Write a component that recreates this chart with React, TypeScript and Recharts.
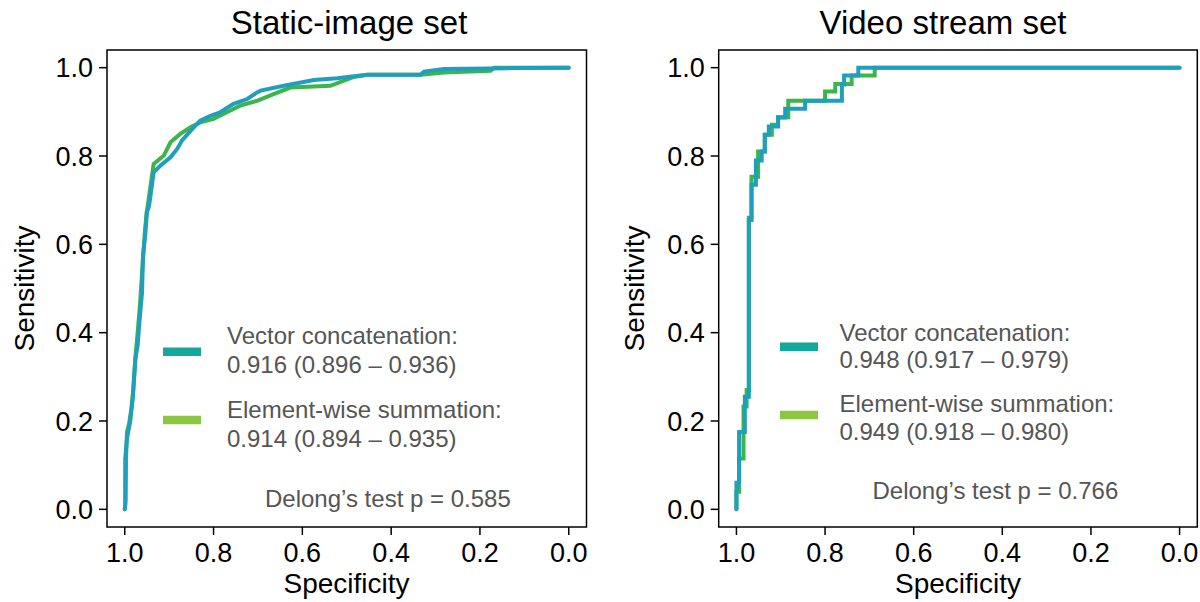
import React from "react";
import { LineChart, Line, XAxis, YAxis, ReferenceArea } from "recharts";

// ---- data: [specificity, sensitivity] ----
const staticVector: [number, number][] = [
  [1.0, 0.0], [0.999, 0.01], [0.999, 0.114], [0.995, 0.16], [0.988, 0.198], [0.982, 0.25],
  [0.976, 0.341], [0.971, 0.371], [0.967, 0.424], [0.961, 0.492], [0.959, 0.574], [0.954, 0.62],
  [0.95, 0.673], [0.946, 0.684], [0.943, 0.703], [0.935, 0.763], [0.92, 0.778], [0.897, 0.797],
  [0.882, 0.816], [0.871, 0.835], [0.852, 0.857], [0.83, 0.88], [0.807, 0.891], [0.785, 0.899],
  [0.755, 0.918], [0.724, 0.929], [0.702, 0.944], [0.694, 0.948], [0.642, 0.959], [0.574, 0.972],
  [0.522, 0.976], [0.454, 0.984], [0.334, 0.984], [0.326, 0.991], [0.281, 0.997], [0.123, 0.999],
  [0.0, 1.0],
];
const staticElement: [number, number][] = [
  [1.0, 0.0], [0.998, 0.02], [0.997, 0.12], [0.995, 0.175], [0.99, 0.195], [0.985, 0.23],
  [0.981, 0.27], [0.976, 0.345], [0.971, 0.4], [0.966, 0.46], [0.962, 0.52], [0.958, 0.58],
  [0.955, 0.625], [0.951, 0.67], [0.946, 0.703], [0.935, 0.782], [0.912, 0.801], [0.897, 0.831],
  [0.875, 0.85], [0.852, 0.865], [0.83, 0.876], [0.8, 0.884], [0.77, 0.899], [0.74, 0.914],
  [0.702, 0.925], [0.665, 0.94], [0.627, 0.955], [0.537, 0.959], [0.484, 0.979], [0.454, 0.984],
  [0.334, 0.984], [0.281, 0.989], [0.176, 0.993], [0.168, 1.0], [0.0, 1.0],
];
const videoVector: [number, number][] = [
  [1.0, 0.0], [1.0, 0.06], [0.994, 0.06], [0.994, 0.175], [0.981, 0.175], [0.981, 0.255],
  [0.972, 0.255], [0.972, 0.655], [0.966, 0.655], [0.966, 0.735], [0.956, 0.735], [0.956, 0.79],
  [0.943, 0.79], [0.943, 0.81], [0.936, 0.81], [0.936, 0.848], [0.927, 0.848], [0.927, 0.867],
  [0.906, 0.867], [0.906, 0.887], [0.89, 0.887], [0.89, 0.907], [0.845, 0.907], [0.845, 0.925],
  [0.762, 0.925], [0.762, 0.962], [0.757, 0.962], [0.757, 0.982], [0.725, 0.982], [0.725, 1.0],
  [0.0, 1.0],
];
const videoElement: [number, number][] = [
  [1.0, 0.0], [1.0, 0.04], [0.994, 0.04], [0.994, 0.115], [0.984, 0.115], [0.984, 0.233],
  [0.977, 0.233], [0.977, 0.27], [0.972, 0.27], [0.972, 0.66], [0.966, 0.66], [0.966, 0.753],
  [0.951, 0.753], [0.951, 0.81], [0.936, 0.81], [0.936, 0.848], [0.92, 0.848], [0.92, 0.871],
  [0.906, 0.871], [0.906, 0.888], [0.883, 0.888], [0.883, 0.925], [0.8, 0.925], [0.8, 0.946],
  [0.777, 0.946], [0.777, 0.963], [0.74, 0.963], [0.74, 0.982], [0.688, 0.982], [0.688, 1.0],
  [0.0, 1.0],
];

const tickValues = [0, 0.2, 0.4, 0.6, 0.8, 1.0];
const panelTitles = ["Static-image set", "Video stream set"];
const seriesNames = ["Vector concatenation:", "Element-wise summation:"];
const staticAuc = ["0.916 (0.896 \u2013 0.936)", "0.914 (0.894 \u2013 0.935)"];
const videoAuc = ["0.948 (0.917 \u2013 0.979)", "0.949 (0.918 \u2013 0.980)"];
const delong = ["Delong\u2019s test p = 0.585", "Delong\u2019s test p = 0.766"];

const FONT = "'Liberation Sans', Arial, Helvetica, sans-serif";
const CURVE_BLUE = "#1f9fbd";
const CURVE_GREEN = "#3db54a";
const LEG_TEAL = "#14a89a";
const LEG_GREEN = "#8dc63f";
const TEXT_GRAY = "#555555";

const toRows = (pts: [number, number][]) => pts.map(([spec, sens]) => ({ spec, sens }));

type PanelProps = {
  left: number;
  yAxisWidth: number;
  rightMargin: number;
  vector: [number, number][];
  element: [number, number][];
};

function Panel({ left, yAxisWidth, rightMargin, vector, element }: PanelProps) {
  const tickStyle = { fontSize: 27, fill: "#000", fontFamily: FONT };
  return (
    <div style={{ position: "absolute", left, top: 0 }}>
      <LineChart
        width={600}
        height={602}
        margin={{ top: 50, right: rightMargin, bottom: 0, left: 0 }}
      >
        <XAxis
          type="number"
          dataKey="spec"
          domain={[-0.04, 1.04]}
          reversed
          allowDataOverflow
          ticks={tickValues}
          tickFormatter={(v: number) => v.toFixed(1)}
          height={75}
          axisLine={false}
          tickSize={8}
          tickMargin={8}
          tick={tickStyle}
          tickLine={{ stroke: "#000", strokeWidth: 1.5 }}
        />
        <YAxis
          type="number"
          dataKey="sens"
          domain={[-0.04, 1.04]}
          allowDataOverflow
          ticks={tickValues}
          tickFormatter={(v: number) => v.toFixed(1)}
          width={yAxisWidth}
          axisLine={false}
          tickSize={8}
          tickMargin={6}
          tick={tickStyle}
          tickLine={{ stroke: "#000", strokeWidth: 1.5 }}
        />
        <ReferenceArea
          x1={-0.04}
          x2={1.04}
          y1={-0.04}
          y2={1.04}
          fill="none"
          fillOpacity={0}
          stroke="#000"
          strokeWidth={1.5}
          ifOverflow="visible"
        />
        <Line
          data={toRows(element)}
          dataKey="sens"
          type="linear"
          stroke={CURVE_GREEN}
          strokeWidth={4}
          strokeLinecap="round"
          dot={false}
          activeDot={false}
          isAnimationActive={false}
        />
        <Line
          data={toRows(vector)}
          dataKey="sens"
          type="linear"
          stroke={CURVE_BLUE}
          strokeWidth={4}
          strokeLinecap="round"
          dot={false}
          activeDot={false}
          isAnimationActive={false}
        />
      </LineChart>
    </div>
  );
}

type LegendProps = {
  title: string;
  titleX: number;
  ylabX: number;
  xlabX: number;
  lineX: number;
  textX: number;
  rowY: number[];
  lineY: number[];
  auc: string[];
  delongText: string;
  delongX: number;
  delongY: number;
};

function Annotations(p: LegendProps) {
  return (
    <g fontFamily={FONT}>
      <text x={p.titleX} y={34} fontSize={33} textAnchor="middle" fill="#000">
        {p.title}
      </text>
      <text
        x={p.ylabX}
        y={288.5}
        fontSize={28}
        textAnchor="middle"
        fill="#000"
        transform={`rotate(-90, ${p.ylabX}, 288.5)`}
      >
        Sensitivity
      </text>
      <text x={p.xlabX} y={593} fontSize={28} textAnchor="middle" fill="#000">
        Specificity
      </text>
      <line x1={p.lineX} x2={p.lineX + 38} y1={p.lineY[0]} y2={p.lineY[0]} stroke={LEG_TEAL} strokeWidth={8.5} />
      <line x1={p.lineX} x2={p.lineX + 38} y1={p.lineY[1]} y2={p.lineY[1]} stroke={LEG_GREEN} strokeWidth={8.5} />
      <text x={p.textX} y={p.rowY[0]} fontSize={24} fill={TEXT_GRAY}>{seriesNames[0]}</text>
      <text x={p.textX} y={p.rowY[1]} fontSize={24} fill={TEXT_GRAY}>{p.auc[0]}</text>
      <text x={p.textX} y={p.rowY[2]} fontSize={24} fill={TEXT_GRAY}>{seriesNames[1]}</text>
      <text x={p.textX} y={p.rowY[3]} fontSize={24} fill={TEXT_GRAY}>{p.auc[1]}</text>
      <text x={p.delongX} y={p.delongY} fontSize={24} fill={TEXT_GRAY}>{p.delongText}</text>
    </g>
  );
}

export default function App() {
  return (
    <div style={{ position: "absolute", left: 0, top: 0, width: 1200, height: 602, background: "#fff" }}>
      <Panel left={0} yAxisWidth={107} rightMargin={13.5} vector={staticVector} element={staticElement} />
      <Panel left={600} yAxisWidth={118.7} rightMargin={2.7} vector={videoVector} element={videoElement} />
      <svg
        width={1200}
        height={602}
        style={{ position: "absolute", left: 0, top: 0, pointerEvents: "none" }}
      >
        <Annotations
          title={panelTitles[0]}
          titleX={349}
          ylabX={34}
          xlabX={346.5}
          lineX={163}
          textX={227}
          rowY={[343.5, 373, 418, 447]}
          lineY={[351.8, 420]}
          auc={staticAuc}
          delongText={delong[0]}
          delongX={265}
          delongY={506.5}
        />
        <Annotations
          title={panelTitles[1]}
          titleX={943}
          ylabX={644}
          xlabX={958}
          lineX={780}
          textX={839.5}
          rowY={[340.5, 368, 411.5, 439.5]}
          lineY={[346.8, 415]}
          auc={videoAuc}
          delongText={delong[1]}
          delongX={872.5}
          delongY={499}
        />
      </svg>
    </div>
  );
}
